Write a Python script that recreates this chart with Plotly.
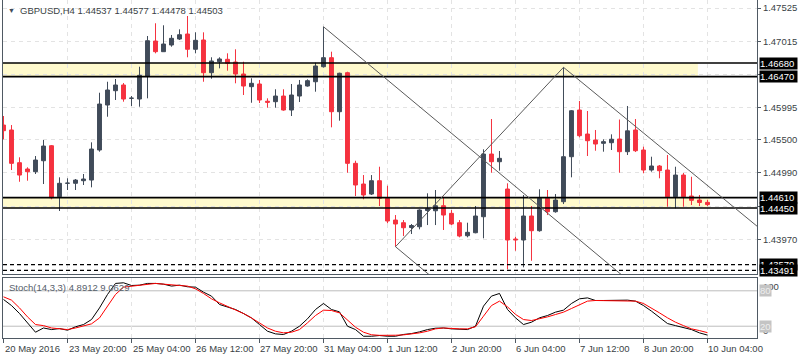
import plotly.graph_objects as go

# ---------------- data ----------------
bar_index = list(range(89))

opens = [1.45726, 1.45650, 1.45147, 1.45050, 1.45008, 1.45177, 1.45408, 1.44624, 1.44830, 1.44830,
         1.44870, 1.44880, 1.45342, 1.46034, 1.46254, 1.46342, 1.46137, 1.46126, 1.46480, 1.47018,
         1.46854, 1.46957, 1.47049, 1.47126, 1.46891, 1.47034, 1.46531, 1.46700, 1.46737, 1.46695,
         1.46511, 1.46316, 1.46357, 1.46092, 1.46085, 1.46172, 1.45957, 1.46172, 1.46326, 1.46392,
         1.46623, 1.46762, 1.45931, 1.46531, 1.45137, 1.44819, 1.44665, 1.44870, 1.44599, 1.44265,
         1.44224, 1.44150, 1.44162, 1.44411, 1.44408, 1.44485, 1.44368, 1.44224, 1.44024, 1.44070,
         1.44316, 1.45280, 1.45162, 1.44742, 1.43973, 1.43958, 1.44327, 1.44101, 1.44599, 1.44393,
         1.44547, 1.45239, 1.45957, 1.45588, 1.45496, 1.45445, 1.45454, 1.45511, 1.45316, 1.45650,
         1.45342, 1.45034, 1.45096, 1.45034, 1.44624, 1.44957, 1.44634, 1.44573, 1.44537]
highs = [1.45865, 1.45726, 1.45230, 1.45076, 1.45250, 1.45496, 1.45419, 1.44922, 1.44907, 1.44896,
         1.44973, 1.45460, 1.46223, 1.46392, 1.46434, 1.46372, 1.46172, 1.46623, 1.47095, 1.47291,
         1.47260, 1.47111, 1.47198, 1.47403, 1.47152, 1.47152, 1.46768, 1.46768, 1.46829, 1.46891,
         1.46700, 1.46445, 1.46419, 1.46137, 1.46276, 1.46276, 1.46357, 1.46419, 1.46429, 1.46685,
         1.47238, 1.46854, 1.46531, 1.46546, 1.45177, 1.44957, 1.44957, 1.45085, 1.44793, 1.44342,
         1.44265, 1.44204, 1.44430, 1.44676, 1.44727, 1.44624, 1.44419, 1.44265, 1.44224, 1.44481,
         1.45353, 1.45819, 1.45327, 1.44830, 1.44009, 1.44650, 1.44481, 1.44738, 1.44727, 1.44665,
         1.46614, 1.45957, 1.46096, 1.45942, 1.45650, 1.45506, 1.45583, 1.45811, 1.46019, 1.45819,
         1.45393, 1.45239, 1.45111, 1.45265, 1.45085, 1.44988, 1.44931, 1.44650, 1.44577]
lows = [1.45506, 1.45034, 1.44854, 1.44870, 1.44973, 1.44819, 1.44584, 1.44404, 1.44727, 1.44727,
        1.44804, 1.44768, 1.45316, 1.45854, 1.46111, 1.46085, 1.46019, 1.46008, 1.46137, 1.46829,
        1.46854, 1.46931, 1.47034, 1.46768, 1.46829, 1.46392, 1.46439, 1.46598, 1.46562, 1.46368,
        1.46188, 1.46069, 1.46065, 1.45993, 1.45993, 1.45946, 1.45865, 1.46080, 1.46316, 1.46239,
        1.46610, 1.45691, 1.45793, 1.44993, 1.44634, 1.44584, 1.44650, 1.44481, 1.44215, 1.43855,
        1.44019, 1.44050, 1.44122, 1.44188, 1.44188, 1.44112, 1.44188, 1.43999, 1.43999, 1.44061,
        1.43984, 1.44993, 1.45024, 1.43507, 1.43793, 1.43538, 1.43639, 1.44086, 1.44342, 1.44378,
        1.44511, 1.44922, 1.45537, 1.45250, 1.45331, 1.45316, 1.45342, 1.44993, 1.45265, 1.45311,
        1.44984, 1.45008, 1.44907, 1.44470, 1.44445, 1.44470, 1.44496, 1.44481, 1.44478]
closes = [1.45639, 1.45137, 1.44957, 1.45008, 1.45188, 1.45403, 1.44608, 1.44830, 1.44832, 1.44880,
          1.44896, 1.45357, 1.46049, 1.46265, 1.46342, 1.46126, 1.46139, 1.46491, 1.47023, 1.46854,
          1.46972, 1.47060, 1.47115, 1.46891, 1.47029, 1.46531, 1.46711, 1.46742, 1.46675, 1.46511,
          1.46326, 1.46368, 1.46111, 1.46077, 1.46172, 1.45957, 1.46188, 1.46342, 1.46408, 1.46634,
          1.46762, 1.45931, 1.46522, 1.45137, 1.44804, 1.44650, 1.44870, 1.44599, 1.44250, 1.44204,
          1.44147, 1.44181, 1.44419, 1.44439, 1.44485, 1.44342, 1.44204, 1.44019, 1.44076, 1.44327,
          1.45280, 1.45162, 1.45214, 1.43958, 1.43961, 1.44327, 1.44101, 1.44599, 1.44393, 1.44573,
          1.45239, 1.45946, 1.45562, 1.45485, 1.45434, 1.45470, 1.45508, 1.45316, 1.45637, 1.45331,
          1.45034, 1.45096, 1.45024, 1.44624, 1.44957, 1.44624, 1.44568, 1.44535, 1.44503]

stoch_main = [65.3, 55, 41.5, 25.7, 9.8, 17, 14.3, 16, 13.2, 19,
              22.8, 31.3, 51, 73.8, 92.5, 93.6, 89, 89.6, 92.5, 92.5,
              91.3, 88, 89.6, 86.8, 86.2, 77.7, 71, 56.8, 52.3, 48.3,
              41.5, 34, 22.8, 11.5, 7, 5.9, 11.5, 20, 32.5, 48.3,
              58.5, 48.3, 44.3, 20, 14.3, 3, 3, 4.2, 3, 3,
              6, 7.5, 10.4, 14.3, 16.6, 17, 15.5, 14.3, 14.3, 20,
              54, 71, 75.5, 48.3, 34.2, 22.8, 26.8, 34.2, 38.1, 43.8,
              47.2, 58.5, 66.4, 68, 63.6, 63.6, 63.6, 63.6, 64.2, 62.5,
              55, 45.5, 34.2, 24.5, 21, 17, 14.3, 8.7, 4.89]
stoch_signal = [69.8, 64.2, 51, 35.8, 22.8, 21, 17, 16, 14.3, 17,
                20, 24, 34, 54, 73.8, 86.2, 88, 89, 90.8, 92.5,
                91.3, 89.6, 89, 88, 83.4, 75.5, 66.4, 59.6, 54, 48.3,
                41.5, 34, 25.7, 17, 11.5, 8.7, 9.8, 14.3, 25.7, 38.1,
                47.2, 46.6, 42.6, 30.2, 18.3, 9.8, 5.5, 4.5, 4, 4.7,
                5.3, 6.4, 8.7, 11.5, 15.5, 17, 16, 15.5, 15.5, 19,
                37, 55, 62.5, 52.8, 40, 31.3, 29.6, 32.5, 35.8, 39.8,
                43.8, 50, 56.8, 62.5, 63.6, 63.6, 63.6, 63.6, 63, 62.5,
                58.5, 51, 42.6, 34.2, 26.8, 21, 15.5, 12.6, 9.06]

time_ticks = [0, 8, 16, 24, 32, 40, 48, 56, 64, 72, 80, 88]
time_labels = ["20 May 2016", "23 May 20:00", "25 May 04:00", "26 May 12:00", "27 May 20:00",
               "31 May 04:00", "1 Jun 12:00", "2 Jun 20:00", "6 Jun 04:00", "7 Jun 12:00",
               "8 Jun 20:00", "10 Jun 04:00"]

price_grid = [1.47525, 1.47015, 1.46505, 1.45995, 1.45500, 1.44990, 1.44480, 1.43970]
price_grid_text = ["1.47525", "1.47015", "", "1.45995", "1.45500", "1.44990", "", "1.43970"]

# support / resistance zones: (upper, lower, last bar the fill reaches)
zones = [(1.46680, 1.46470, 86.8), (1.44610, 1.44450, 88.3)]
dashed_levels = [1.43579, 1.43491]
level_labels = [1.46680, 1.46470, 1.44610, 1.44450, 1.43579, 1.43491]

# trend lines as (bar, price) anchor pairs
trend_lines = [
    ((40, 1.47238), (78, 1.43347)),
    ((70, 1.46614), (95, 1.44089)),
    ((49, 1.43855), (70, 1.46614)),
    ((49, 1.43855), (55, 1.43241)),
]

stoch_levels = [80, 20]

# ---------------- styling ----------------
BULL = "#404b59"
BEAR = "#f5323f"
FRAME = "#4f5963"
GRID = "#e3e3e3"
TXT = "#3a3f45"
FONT = "Liberation Sans"
XR = [-0.0625, 94.19]

fig = go.Figure()
fig.add_trace(go.Candlestick(
    x=bar_index, open=opens, high=highs, low=lows, close=closes,
    xaxis="x", yaxis="y",
    increasing=dict(line=dict(color=BULL, width=1), fillcolor=BULL),
    decreasing=dict(line=dict(color=BEAR, width=1), fillcolor=BEAR),
    whiskerwidth=0, hoverinfo="skip", showlegend=False))
fig.add_trace(go.Scatter(x=bar_index, y=stoch_main, xaxis="x2", yaxis="y2", mode="lines",
                         line=dict(color="#000000", width=1), hoverinfo="skip", showlegend=False))
fig.add_trace(go.Scatter(x=bar_index, y=stoch_signal, xaxis="x2", yaxis="y2", mode="lines",
                         line=dict(color="#ff0000", width=1), hoverinfo="skip", showlegend=False))

shapes = []
for up, lo, end in zones:
    shapes.append(dict(type="rect", xref="x", yref="y", x0=-2, x1=end, y0=lo, y1=up,
                       fillcolor="#fffacd", line=dict(width=0), layer="below"))
for up, lo, end in zones:
    for p in (up, lo):
        shapes.append(dict(type="line", xref="x domain", yref="y", x0=0, x1=1, y0=p, y1=p,
                           line=dict(color="#000000", width=1.6)))
for p in dashed_levels:
    shapes.append(dict(type="line", xref="x domain", yref="y", x0=0, x1=1, y0=p, y1=p,
                       line=dict(color="#000000", width=1.2, dash="4px,3px")))
for (a, b) in trend_lines:
    shapes.append(dict(type="line", xref="x", yref="y", x0=a[0], y0=a[1], x1=b[0], y1=b[1],
                       line=dict(color="#5a5a5a", width=1)))
for lv in stoch_levels:
    shapes.append(dict(type="line", xref="x2 domain", yref="y2", x0=0, x1=1, y0=lv, y1=lv,
                       line=dict(color="#bdbdbd", width=1), layer="below"))

annotations = []
# chart title
annotations.append(dict(xref="paper", yref="paper", x=0, y=1, xanchor="left", yanchor="top",
                        xshift=3, yshift=-5, text="▼", showarrow=False,
                        font=dict(family=FONT, size=7, color=BULL)))
annotations.append(dict(xref="paper", yref="paper", x=0, y=1, xanchor="left", yanchor="top",
                        xshift=15, yshift=-3, text="GBPUSD,H4 1.44537 1.44577 1.44478 1.44503",
                        showarrow=False, font=dict(family=FONT, size=9.5, color=TXT)))
# stoch title
annotations.append(dict(xref="paper", yref="paper", x=0, y=0.1775, xanchor="left", yanchor="top",
                        xshift=4, yshift=-2, text="Stoch(14,3,3) 4.8912 9.0629",
                        showarrow=False, font=dict(family=FONT, size=9.5, color="#56606b")))
# black price-level labels
for p in level_labels:
    annotations.append(dict(xref="paper", yref="y", x=1, y=p, xanchor="left", yanchor="middle",
                            xshift=2, text=f"{p:.5f} ", showarrow=False, bgcolor="#000000",
                            borderpad=0, font=dict(family=FONT, size=9.5, color="#ffffff")))
# stoch scale labels
annotations.append(dict(xref="paper", yref="y2", x=1, y=100, xanchor="left", yanchor="top",
                        xshift=4, text="100", showarrow=False, font=dict(family=FONT, size=9.5, color=TXT)))
annotations.append(dict(xref="paper", yref="y2", x=1, y=0, xanchor="left", yanchor="bottom",
                        xshift=4, text="0", showarrow=False, font=dict(family=FONT, size=9.5, color=TXT)))
for lv in stoch_levels:
    annotations.append(dict(xref="paper", yref="y2", x=1, y=lv, xanchor="left", yanchor="middle",
                            xshift=2, text=str(lv), showarrow=False, bgcolor="#c4c4c4", borderpad=0,
                            font=dict(family=FONT, size=9.5, color="#eeeeee")))
# time labels
for t, lab in zip(time_ticks, time_labels):
    annotations.append(dict(xref="x2", yref="paper", x=t, y=0, xanchor="left", yanchor="top",
                            xshift=-1, yshift=-3, text=lab, showarrow=False,
                            font=dict(family=FONT, size=9.5, color=TXT)))

fig.update_layout(
    width=800, height=360, margin=dict(l=3, r=43, t=0, b=22),
    paper_bgcolor="#ffffff", plot_bgcolor="#ffffff", showlegend=False, hovermode=False,
    font=dict(family=FONT, size=9.5, color=TXT),
    xaxis=dict(domain=[0, 1], anchor="y", range=XR, tickvals=time_ticks, showticklabels=False,
               ticks="", showgrid=True, gridcolor=GRID, griddash="4px,4px", showline=True,
               linecolor=FRAME, linewidth=1, zeroline=False, rangeslider=dict(visible=False),
               fixedrange=True),
    yaxis=dict(domain=[0.1893, 1], anchor="x", side="right", range=[1.43435, 1.47649],
               tickvals=price_grid, ticktext=price_grid_text, ticks="outside", ticklen=3,
               tickcolor=FRAME, showgrid=True, gridcolor=GRID, griddash="4px,4px",
               showline=True, mirror=True, linecolor=FRAME, linewidth=1, zeroline=False,
               tickfont=dict(family=FONT, size=9.5, color=TXT), fixedrange=True),
    xaxis2=dict(domain=[0, 1], anchor="y2", range=XR, tickvals=time_ticks, showticklabels=False,
                ticks="outside", ticklen=4, tickcolor=FRAME, showgrid=True, gridcolor=GRID,
                griddash="4px,4px", showline=True, mirror=True, linecolor=FRAME, linewidth=1,
                zeroline=False, fixedrange=True),
    yaxis2=dict(domain=[0, 0.1775], anchor="x2", side="right", range=[0, 101.7],
                showticklabels=False, ticks="", showgrid=False, showline=True, mirror=True,
                linecolor=FRAME, linewidth=1, zeroline=False, fixedrange=True),
    shapes=shapes, annotations=annotations,
)

fig.write_html("out.html", config={"displayModeBar": False},
               post_script="document.body.style.margin='0px';")
